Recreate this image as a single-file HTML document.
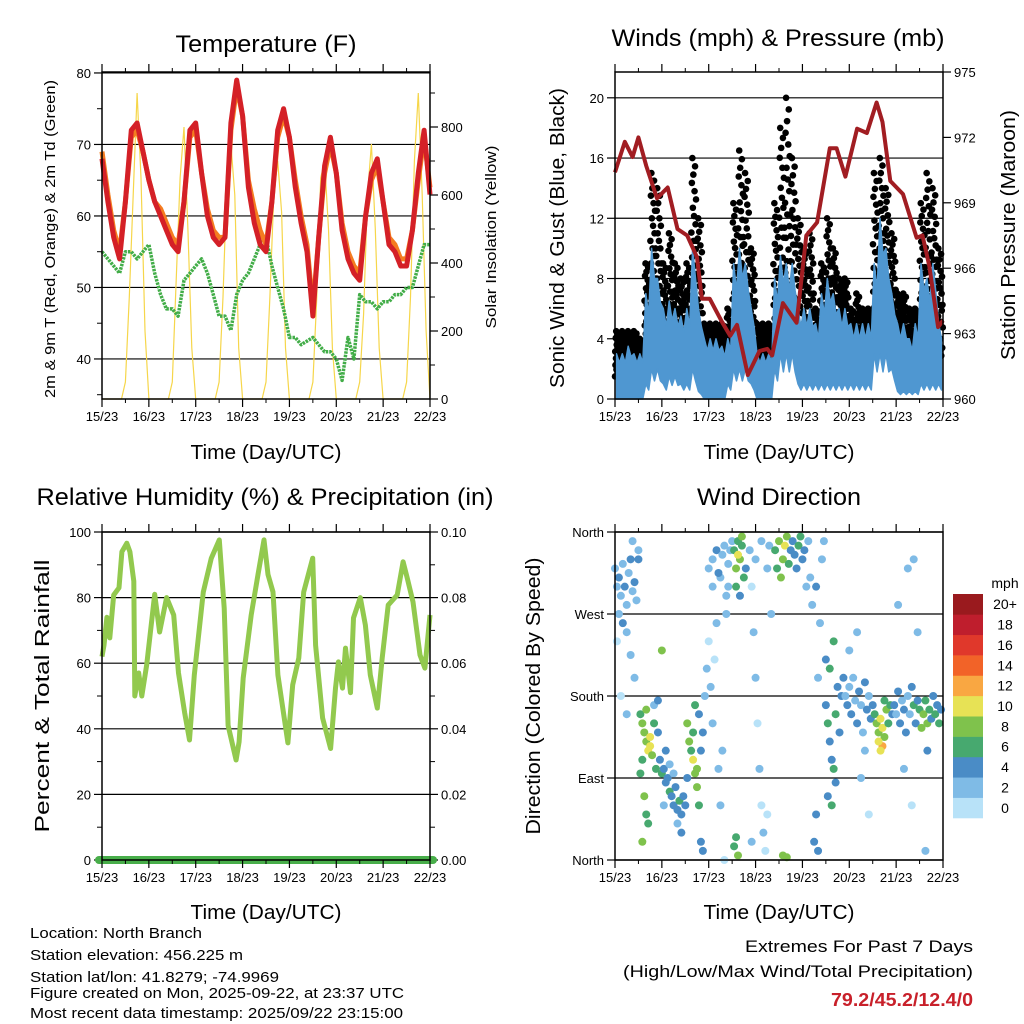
<!DOCTYPE html>
<html><head><meta charset="utf-8"><style>
html,body{margin:0;padding:0;background:#fff;}
svg{display:block;font-family:"Liberation Sans",Arial,sans-serif;}
</style></head><body>
<svg id="chart" width="1024" height="1024" viewBox="0 0 1024 1024" xmlns="http://www.w3.org/2000/svg">
<rect width="1024" height="1024" fill="#fff"/>
<g id="layer"></g>
<g id="texts" font-size="15" fill="#000">
<text x="266" y="52" font-size="24" text-anchor="middle" textLength="181" lengthAdjust="spacingAndGlyphs">Temperature (F)</text>
<text x="778" y="46" font-size="24" text-anchor="middle" textLength="333" lengthAdjust="spacingAndGlyphs">Winds (mph) &amp; Pressure (mb)</text>
<text x="265" y="505" font-size="24" text-anchor="middle" textLength="457" lengthAdjust="spacingAndGlyphs">Relative Humidity (%) &amp; Precipitation (in)</text>
<text x="779" y="505" font-size="24" text-anchor="middle" textLength="164" lengthAdjust="spacingAndGlyphs">Wind Direction</text>
<text x="266" y="459" font-size="20" text-anchor="middle" textLength="151" lengthAdjust="spacingAndGlyphs">Time (Day/UTC)</text>
<text x="779" y="459" font-size="20" text-anchor="middle" textLength="151" lengthAdjust="spacingAndGlyphs">Time (Day/UTC)</text>
<text x="266" y="919" font-size="20" text-anchor="middle" textLength="151" lengthAdjust="spacingAndGlyphs">Time (Day/UTC)</text>
<text x="779" y="919" font-size="20" text-anchor="middle" textLength="151" lengthAdjust="spacingAndGlyphs">Time (Day/UTC)</text>
<text transform="translate(55,239) rotate(-90)" font-size="15" text-anchor="middle" textLength="318" lengthAdjust="spacingAndGlyphs">2m &amp; 9m T (Red, Orange) &amp; 2m Td (Green)</text>
<text transform="translate(496,237) rotate(-90)" font-size="15" text-anchor="middle" textLength="183" lengthAdjust="spacingAndGlyphs">Solar Insolation (Yellow)</text>
<text transform="translate(564,238) rotate(-90)" font-size="20" text-anchor="middle" textLength="300" lengthAdjust="spacingAndGlyphs">Sonic Wind &amp; Gust (Blue, Black)</text>
<text transform="translate(1015,235) rotate(-90)" font-size="20" text-anchor="middle" textLength="250" lengthAdjust="spacingAndGlyphs">Station Pressure (Maroon)</text>
<text transform="translate(49,696) rotate(-90)" font-size="20" text-anchor="middle" textLength="273" lengthAdjust="spacingAndGlyphs">Percent &amp; Total Rainfall</text>
<text transform="translate(540,696) rotate(-90)" font-size="20" text-anchor="middle" textLength="277" lengthAdjust="spacingAndGlyphs">Direction (Colored By Speed)</text>
<text x="30" y="938" textLength="172" lengthAdjust="spacingAndGlyphs">Location: North Branch</text>
<text x="30" y="960" textLength="213" lengthAdjust="spacingAndGlyphs">Station elevation: 456.225 m</text>
<text x="30" y="982" textLength="249" lengthAdjust="spacingAndGlyphs">Station lat/lon: 41.8279; -74.9969</text>
<text x="30" y="998" textLength="374" lengthAdjust="spacingAndGlyphs">Figure created on Mon, 2025-09-22, at 23:37 UTC</text>
<text x="30" y="1018" textLength="373" lengthAdjust="spacingAndGlyphs">Most recent data timestamp: 2025/09/22 23:15:00</text>
<text x="973" y="952" font-size="17" text-anchor="end" textLength="228" lengthAdjust="spacingAndGlyphs">Extremes For Past 7 Days</text>
<text x="973" y="977" font-size="17" text-anchor="end" textLength="350" lengthAdjust="spacingAndGlyphs">(High/Low/Max Wind/Total Precipitation)</text>
<text x="973" y="1006" font-size="18" font-weight="bold" fill="#c8202a" text-anchor="end" textLength="142" lengthAdjust="spacingAndGlyphs">79.2/45.2/12.4/0</text>
<text x="1005" y="588" font-size="14" text-anchor="middle">mph</text>
</g>
</svg>
<script>
// ---------- data ----------
const dayLabels = ["15/23","16/23","17/23","18/23","19/23","20/23","21/23","22/23"];
const temp2m = [68,62,57,54,62,72,73,69,65,62,60,58,56,55,62,72,73,66,60,57,56,57,73,79,74,64,59,56,55,62,72,75,71,64,59,55,46,57,67,71,66,58,54,52,51,60,66,68,62,56,55,53,53,58,66,72,63];
const temp9m = [69,63,58,55,62,71,72,69,65,62,61,59,57,56,62,71,72,66,61,58,57,57,72,78,74,65,61,58,56,62,71,74,71,65,60,56,47,57,66,70,66,59,55,53,52,60,65,67,62,57,56,54,54,58,65,71,64];
const dewpt = [55,54,53,52,55,55,54,55,56,52,49,47,47,46,51,52,53,54,52,49,46,46,44,49,51,52,54,56,57,53,50,47,43,43,42,42.5,43,42,41,41,40,37,43,40,49,48,48,47,48,48,49,49,50,50,53,56,56];
const solar = [0,0,0,0,0,0,50,300,600,900,650,200, 0,0,0,0,0,0,50,350,650,800,500,150, 0,0,0,0,0,0,50,300,650,750,600,150, 0,0,0,0,0,0,50,300,600,700,550,150, 0,0,0,0,0,0,50,300,650,700,500,150, 0,0,0,0,0,0,50,250,600,750,500,150, 0,0,0,0,0,0,50,300,700,900,600,200, 0];
const windLo = [0,0,0,0,0,1,2,2,1,1.5,1.5,1,1,2,0.5,0,0,0,0,1,2,2,2,1,0,0,0,2,3,3,3,1,1,1,1,1,1,1,1,1,1,1,1,1,3,3,3,2,0.5,0.5,0.5,0.5,1,1,1,1];
const windHi = [3,3,3.5,3,3,7,10,8,6,6.5,6,5.5,6,10,6,4,4,4,3.5,4,9,10,9,6,3,3,3,8,9.5,9,9,6,6,6,5,7,8,7,6,6,5,5,5,5,9,12,10,7,5,5,4,5,9,8,9,5];
const gustHi = [4.5,4.5,4.5,4.5,4,9,15,14,9,11,9,8,9,16,12,5,5,5,5,6,13,16.5,15,10,5,5,5,13,18,20,16,12,10,11,6,9,12,10,8,8,6,7,6,6,15,16,14,11,7,7,6,6,13,15,14,10];
const pressHours = [0,5,9,12,16,21.5,27,32,37,42,44.5,48.5,55,59,62.5,68,74,78,80.5,86,93,98,103.5,110,113.5,118,124,129,134,137,141,147.5,154.5,157.5,161,165.5,168];
const pressVals = [970.4,971.8,971.1,972,970.7,969.2,969.7,967.8,967.5,966.5,964.6,964.6,963.5,962.9,963.4,961.1,962.2,962.3,962,964.4,963.5,967.5,968.1,971.5,971.5,970.2,972.4,972.2,973.6,972.7,970,969.4,967.4,967.5,966.1,963.3,963.6];
const rhHours = [0,1,2.5,4,6,8.7,10.2,12.7,14.3,16.3,16.8,18.8,20.4,22.9,27,29.5,33.1,36.7,39.2,42.3,44.8,47.3,51.9,56,60.1,62.6,64.6,68.7,70.2,72.3,76.4,79.9,83,85,87.6,90.1,95.2,97.7,100.8,103.3,107.9,109.4,113,117.1,119.6,121.1,123.2,124.7,127.3,128.8,132.3,134.9,137.4,141,143.5,146.6,151.2,154.2,156.3,159.3,162.9,165.4,168];
const rhVals = [62,65.5,74,67.7,80.8,83,94,96.6,94,85,50,57,50,59.5,81,69.5,80,74.7,57,45,36.6,56.4,81.7,92,97.6,76.8,41,30.5,36,55.5,74.7,87,97.6,87,81.7,56.4,35.7,53.4,61.6,81.7,92,65.5,43.3,34,52.4,60.4,52.4,64.6,51,73.8,80,71.6,56.4,46.3,61.6,77.7,80.8,90.9,86,78.7,62.5,58.5,74.7];
const precipVals = [0,0];
const dirHours = [0,1,2,3,4,5,6,7,8,9,10,11,12,2,4,6,1,8,10,3,6,12,9, 13,14,15,16,17,18,19,20,21,22,14,16,18,13,15,16,17,14,20,22,24, 23,24,25,26,27,28,29,30,31,32,33,34,35,26,28,30,32,34,36,37,25, 37,38,39,40,41,42,40,41,42,43,44,45,43,46,44,45, 47,48,49,50,51,52,53,54,55,56,57,58,48,50,52,54,56,58,60,50,53,55,57,59, 61,62,63,64,65,66,62,64,63,65,61,62,63,67, 69,70,71,72,73,74,75,76,77,78,79,80,72,75,70,78, 82,83,84,85,86,87,88,89,90,91,92,93,94,95,96,97,98,86,88,99,100,101, 102,103,104,105,106,107,108,103,104, 108,109,110,111,112,113,114,115,116,109,111,113,117,112,110, 118,119,120,121,122,123,124,125,126,127,128,129,130,131,132,120,124,128,130,126, 133,134,135,136,137,138,139,140,141,137,135,138,142,136, 143,144,145,146,147,148,149,150,151,152,153,154,155,156,157,158,159,160,161,162,163,164,165,166,167,145,150,155,160,148,153,152,159];
const dirDeg = [320,300,310,290,325,300,280,315,330,295,305,285,340,270,260,250,240,225,200,180,160,330,350, 160,150,140,130,120,125,115,150,100,140,110,165,135,95,70,50,40,20,170,175,230, 110,95,100,85,90,75,70,60,80,55,65,50,70,120,105,95,40,30,60,90,60, 150,130,120,110,95,100,140,170,80,60,120,140,160,180,20,10, 210,240,190,150,220,260,100,60,120,0,270,300,320,330,340,310,345,325,350,300,315,335,290,340, 340,320,350,330,355,310,300,290,335,345,15,25,5,320, 340,300,250,200,150,100,60,30,10,320,345,270,330,350,20,50, 340,320,350,310,330,345,355,325,340,350,335,320,345,355,330,340,300,5,3,350,310,280, 20,50,200,260,330,350,220,300,10, 170,150,130,110,100,160,190,140,180,70,60,85,200,240,210, 180,170,190,160,200,175,150,185,170,140,195,165,180,155,170,230,250,120,50,90, 160,150,140,155,145,135,165,150,170,125,130,175,160,120, 170,160,185,150,175,165,140,180,160,190,170,150,175,165,145,160,175,150,165,155,180,160,170,150,165,280,320,250,120,100,330,60,10];
const dirSpeed = [2,2,3,2,2,3,2,2,3,1,3,2,2,2,3,1,0,1,1,0,1,4,1, 6,7,8,7,10,9,8,6,5,4,6,8,10,6,7,5,6,7,2,3,8, 4,5,4,4,3,5,4,4,3,4,5,4,3,3,2,2,2,3,4,4,2, 7,8,6,9,7,8,6,6,7,5,4,3,3,2,4,3, 1,0,1,2,0,1,1,2,2,0,1,1,2,2,3,2,2,1,2,2,3,2,2,1, 6,7,6,8,7,6,5,4,10,5,6,5,7,3, 1,0,1,1,0,1,0,1,0,2,1,1,2,1,1,0, 5,6,7,8,7,10,8,6,4,4,4,4,5,6,4,3,2,7,8,2,2,1, 3,4,2,1,2,2,3,4,3, 4,5,4,4,5,6,4,3,3,4,5,4,3,6,5, 2,3,2,3,2,2,3,3,2,2,3,3,2,3,4,1,2,1,0,1, 6,7,8,9,10,8,7,6,5,12,9,6,4,10, 3,2,3,4,2,3,4,2,2,3,5,4,3,6,7,8,6,7,5,4,3,6,4,5,3,1,1,1,3,2,1,0,1];
const cbColors = ["#b8e2f8","#7fbbe6","#4a8cc6","#47a96f","#7fc24c","#e7e255","#f9a742","#f26328","#e0382b","#bf1e2d","#9a1a1e"];
const cbLabels = ["0","2","4","6","8","10","12","14","16","18","20+"];
const tempTicks = [40,50,60,70,80];
const solarTicks = [0,200,400,600,800];
const windTicks = [0,4,8,12,16,20];
const pressTicks = [960,963,966,969,972,975];
const rhTicks = [0,20,40,60,80,100];
const precipTicks = ["0.00","0.02","0.04","0.06","0.08","0.10"];
const dirTicks = [0,90,180,270,360];
const dirLabels = ["North","East","South","West","North"];

// ---------- helpers ----------
const NS = "http://www.w3.org/2000/svg";
const layer = document.getElementById('layer');
function mk(tag, attrs, parent){ const e=document.createElementNS(NS,tag); for(const k in attrs) e.setAttribute(k,attrs[k]); (parent||layer).appendChild(e); return e; }
function txt(x,y,s,size,anchor,parent){ const t=mk('text',{x:x,y:y,'font-size':size,'text-anchor':anchor,fill:'#000'},parent); t.textContent=s; return t; }
function panel(name, L, R, T, B){
  const g = mk('g',{});
  
  
  return {g:g, L:L, R:R, T:T, B:B, xh:h=> L + h/168*(R-L)};
}
function drawFrame(p, name){
  const f = mk('rect',{x:p.L,y:p.T,width:p.R-p.L,height:p.B-p.T,fill:'none',stroke:'#000','stroke-width':1.5},p.g);
  
  
  for(let d=0; d<dayLabels.length; d++){
    const x = p.xh(d*24);
    mk('line',{x1:x,x2:x,y1:p.B,y2:p.B+8,stroke:'#000','stroke-width':1.2},p.g);
    mk('line',{x1:x,x2:x,y1:p.T,y2:p.T-8,stroke:'#000','stroke-width':1.2},p.g);
    const t = txt(x, p.B+22, dayLabels[d], 13, 'middle', p.g);
    
    
    if(d<7){
      const xm = p.xh(d*24+12);
      mk('line',{x1:xm,x2:xm,y1:p.B,y2:p.B+4,stroke:'#000','stroke-width':1},p.g);
      mk('line',{x1:xm,x2:xm,y1:p.T,y2:p.T-4,stroke:'#000','stroke-width':1},p.g);
    }
  }
}
function leftAxis(p, ticks, labels, ys, grid){
  ticks.forEach((v,i)=>{
    const y = ys(v);
    if(grid) mk('line',{x1:p.L,x2:p.R,y1:y,y2:y,stroke:'#000','stroke-width':1.2},p.g);
    mk('line',{x1:p.L-8,x2:p.L,y1:y,y2:y,stroke:'#000','stroke-width':1.2},p.g);
    const t = txt(p.L-11, y+5, labels[i], 13, 'end', p.g);
    
    
  });
}
function rightAxis(p, ticks, labels, ys){
  ticks.forEach((v,i)=>{
    const y = ys(v);
    mk('line',{x1:p.R,x2:p.R+8,y1:y,y2:y,stroke:'#000','stroke-width':1.2},p.g);
    const t = txt(p.R+11, y+5, labels[i], 13, 'start', p.g);
    
    
  });
}
function path(pts){ return pts.map((p,i)=>(i?'L':'M')+p[0].toFixed(1)+','+p[1].toFixed(1)).join(''); }

// ---------- Panel 1 ----------
const p1 = panel('temperature-panel', 102, 430, 72, 399);
const yT = v => 399 - (v-34.4)*7.15;
const yS = v => 399 - v*0.34;
leftAxis(p1, tempTicks, tempTicks.map(String), yT, true);
rightAxis(p1, solarTicks, solarTicks.map(String), yS);
[35,45,55,65,75].forEach(v=>mk('line',{x1:p1.L-5,x2:p1.L,y1:yT(v),y2:yT(v),stroke:'#000'},p1.g));
[100,300,500,700,900].forEach(v=>mk('line',{x1:p1.R,x2:p1.R+5,y1:yS(v),y2:yS(v),stroke:'#000'},p1.g));
const solarLine = mk('path',{d:path(solar.map((v,i)=>[p1.xh(i*2), yS(v)])),fill:'none',stroke:'#f6d64a','stroke-width':1.2},p1.g);


const tdLine = mk('path',{d:path(dewpt.map((v,i)=>[p1.xh(i*3), yT(v)])),fill:'none',stroke:'#42ad48','stroke-width':3.5,'stroke-dasharray':'2.5 1','stroke-linejoin':'round'},p1.g);


const t9Line = mk('path',{d:path(temp9m.map((v,i)=>[p1.xh(i*3), yT(v)])),fill:'none',stroke:'#f47c20','stroke-width':5,'stroke-linejoin':'round'},p1.g);


const t2Line = mk('path',{d:path(temp2m.map((v,i)=>[p1.xh(i*3), yT(v)])),fill:'none',stroke:'#d42027','stroke-width':5,'stroke-linejoin':'round'},p1.g);


drawFrame(p1, 'temperature');

// ---------- Panel 2 ----------
const p2 = panel('winds-panel', 615, 943, 72, 399);
const yW = v => 399 - v*15.06;
const yP = v => 399 - (v-960)*21.8;
leftAxis(p2, windTicks, windTicks.map(String), yW, true);
rightAxis(p2, pressTicks, pressTicks.map(String), yP);
const gustFrac = [0.0,0.55,0.25,0.85,0.4,1.0,0.15,0.7,0.3,0.9,0.5,0.1,0.65,0.2,0.8,0.35,0.95,0.05,0.6,0.45,0.75,0.12,0.5,0.3];
gustHi.forEach((v,i)=>{
  const lo = windHi[i]*0.5;
  gustFrac.forEach((f,k)=>{
    const c = mk('circle',{cx:p2.xh(i*3 + k*0.125),cy:yW(lo + f*(v-lo)),r:3.3,fill:'#000'},p2.g);
    
    
  });
});
const upper = [], lower = [];
windHi.forEach((v,i)=>{ upper.push([p2.xh(i*3+0.75), yW(v)]); upper.push([p2.xh(i*3+2.25), yW(v*0.8)]); });
windLo.forEach((v,i)=>{ lower.push([p2.xh(i*3+0.75), yW(v)]); lower.push([p2.xh(i*3+2.25), yW(v*0.6)]); });
const band = mk('path',{d:path(upper.concat(lower.reverse()))+'Z',fill:'#4f97d1',stroke:'#4f97d1','stroke-width':1.5,'stroke-linejoin':'round'},p2.g);


const pLine = mk('path',{d:path(pressVals.map((v,i)=>[p2.xh(pressHours[i]), yP(v)])),fill:'none',stroke:'#a11d22','stroke-width':4,'stroke-linejoin':'round'},p2.g);


drawFrame(p2, 'winds');

// ---------- Panel 3 ----------
const p3 = panel('humidity-panel', 102, 430, 532, 860);
const yR = v => 860 - v*3.28;
leftAxis(p3, rhTicks, rhTicks.map(String), yR, true);
rightAxis(p3, rhTicks, precipTicks, yR);
[10,30,50,70,90].forEach(v=>{mk('line',{x1:p3.L-5,x2:p3.L,y1:yR(v),y2:yR(v),stroke:'#000'},p3.g);mk('line',{x1:p3.R,x2:p3.R+5,y1:yR(v),y2:yR(v),stroke:'#000'},p3.g);});
const rhLine = mk('path',{d:path(rhVals.map((v,i)=>[p3.xh(rhHours[i]), yR(v)])),fill:'none',stroke:'#92c94e','stroke-width':5,'stroke-linejoin':'round'},p3.g);


const prLine = mk('line',{x1:p3.L-3,x2:p3.R+3,y1:yR(precipVals[0]*1000),y2:yR(precipVals[1]*1000),stroke:'#48ae4a','stroke-width':8,'stroke-linecap':'round'},p3.g);


drawFrame(p3, 'humidity');

// ---------- Panel 4 ----------
const p4 = panel('wind-direction-panel', 615, 943, 532, 860);
const yD = v => 860 - v*0.9111;
leftAxis(p4, dirTicks, dirLabels, yD, true);
dirHours.forEach((h,i)=>{
  const idx = Math.min(10, Math.floor((dirSpeed[i]+1)/2));
  const c = mk('circle',{cx:p4.xh(h),cy:yD(dirDeg[i]),r:4,fill:cbColors[idx]},p4.g);
  
  
});
drawFrame(p4, 'wind-direction');

const cb = mk('g',{});


const cbH = (818-594)/cbColors.length;
cbColors.forEach((col,i)=>{
  const y = 818 - (i+1)*cbH;
  const r = mk('rect',{x:953,y:y,width:30,height:cbH+0.3,fill:col},cb);
  
  
  const t = txt(1005, y+cbH/2+5, cbLabels[i], 14, 'middle', cb);
  
  
});
</script>
</body></html>
